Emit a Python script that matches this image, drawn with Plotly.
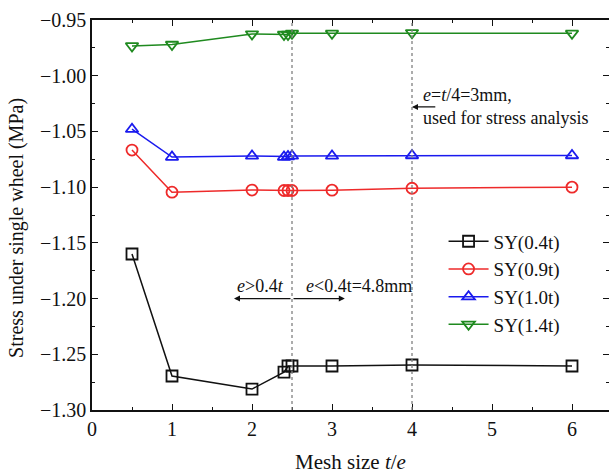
import plotly.graph_objects as go

# Mesh size t/e and stress values for each stress component
mesh_size = [0.5, 1, 2, 2.4, 2.45, 2.5, 3, 4, 6]
sy_04t = [-1.160, -1.2695, -1.2812, -1.266, -1.2605, -1.2605, -1.2605, -1.2596, -1.2605]
sy_09t = [-1.0667, -1.1045, -1.1026, -1.103, -1.103, -1.103, -1.1027, -1.101, -1.100]
sy_10t = [-1.048, -1.073, -1.072, -1.073, -1.0725, -1.072, -1.072, -1.0716, -1.0716]
sy_14t = [-0.9733, -0.972, -0.9626, -0.963, -0.963, -0.962, -0.962, -0.9615, -0.962]

series = [
    ("SY(0.4t)", sy_04t, "#111111", "square-open"),
    ("SY(0.9t)", sy_09t, "#ee2a2a", "circle-open"),
    ("SY(1.0t)", sy_10t, "#1a1aee", "triangle-up-open"),
    ("SY(1.4t)", sy_14t, "#1f8a1f", "triangle-down-open"),
]

FONT = "Liberation Serif"
INK = "#111111"

fig = go.Figure()
for name, vals, color, symbol in series:
    fig.add_trace(go.Scatter(
        x=mesh_size, y=vals, name=name, mode="lines+markers",
        line=dict(color=color, width=1.5),
        marker=dict(symbol=symbol, size=11, color=color,
                    line=dict(color=color, width=1.8)),
    ))

# Reference lines at t/e = 2.5 and t/e = 4
for xv in (2.5, 4):
    fig.add_shape(type="line", x0=xv, x1=xv, y0=-1.30, y1=-0.95,
                  xref="x", yref="y",
                  line=dict(color="#808080", width=1.3, dash="dot"))

# Arrow and note for the chosen mesh
fig.add_annotation(x=4, y=-1.028, ax=4.31, ay=-1.028, xref="x", yref="y",
                   axref="x", ayref="y", text="", showarrow=True,
                   arrowhead=2, arrowsize=1, arrowwidth=1.2, arrowcolor=INK)
fig.add_annotation(x=4.11, y=-1.0173, xref="x", yref="y", xanchor="left",
                   text="<i>e</i>=<i>t</i>/4=3mm,", showarrow=False,
                   font=dict(family=FONT, size=18, color=INK))
fig.add_annotation(x=4.11, y=-1.038, xref="x", yref="y", xanchor="left",
                   text="used for stress analysis", showarrow=False,
                   font=dict(family=FONT, size=18, color=INK))

# Double arrow around t/e = 2.5
fig.add_annotation(x=1.775, y=-1.2, ax=2.5, ay=-1.2, xref="x", yref="y",
                   axref="x", ayref="y", text="", showarrow=True,
                   arrowhead=2, arrowsize=1, arrowwidth=1.2, arrowcolor=INK)
fig.add_annotation(x=3.16, y=-1.2, ax=2.5, ay=-1.2, xref="x", yref="y",
                   axref="x", ayref="y", text="", showarrow=True,
                   arrowhead=2, arrowsize=1, arrowwidth=1.2, arrowcolor=INK)
fig.add_annotation(x=2.42, y=-1.1885, xref="x", yref="y", xanchor="right",
                   text="<i>e</i>>0.4<i>t</i>", showarrow=False,
                   font=dict(family=FONT, size=18, color=INK))
fig.add_annotation(x=2.65, y=-1.1885, xref="x", yref="y", xanchor="left",
                   text="<i>e</i><0.4t=4.8mm", showarrow=False,
                   font=dict(family=FONT, size=18, color=INK))

# Y-axis title, placed as rotated text left of the tick labels
fig.add_annotation(x=-0.145, y=0.467, xref="paper", yref="paper",
                   xanchor="center", yanchor="middle", textangle=-90,
                   text="Stress under single wheel (MPa)", showarrow=False,
                   font=dict(family=FONT, size=20, color=INK))

axis_common = dict(
    showline=True, linecolor=INK, linewidth=1.5, mirror="allticks",
    ticks="inside", ticklen=6, tickwidth=1.3, tickcolor=INK,
    showgrid=False, zeroline=False, automargin=False,
    tickfont=dict(family=FONT, size=20, color=INK),
)

fig.update_layout(
    width=609, height=475,
    margin=dict(l=92, r=0, t=20, b=65),
    plot_bgcolor="white", paper_bgcolor="white",
    font=dict(family=FONT, color=INK),
    xaxis=dict(range=[0, 6.4625], dtick=1, tick0=0,
               minor=dict(dtick=0.5, ticks="inside", ticklen=3,
                          tickcolor=INK, tickwidth=1.1),
               title=dict(text="Mesh size <i>t</i>/<i>e</i>",
                          font=dict(family=FONT, size=21), standoff=16),
               **axis_common),
    yaxis=dict(range=[-1.30, -0.95], dtick=0.05, tick0=-1.30,
               tickformat=".2f",
               minor=dict(dtick=0.025, ticks="inside", ticklen=3,
                          tickcolor=INK, tickwidth=1.1),
               **axis_common),
    legend=dict(x=0.68, y=0.481, xanchor="left", yanchor="top",
                bgcolor="rgba(0,0,0,0)", borderwidth=0,
                font=dict(family=FONT, size=19, color=INK),
                tracegroupgap=0, itemwidth=40),
    showlegend=True,
)

fig.write_html("out.html")
